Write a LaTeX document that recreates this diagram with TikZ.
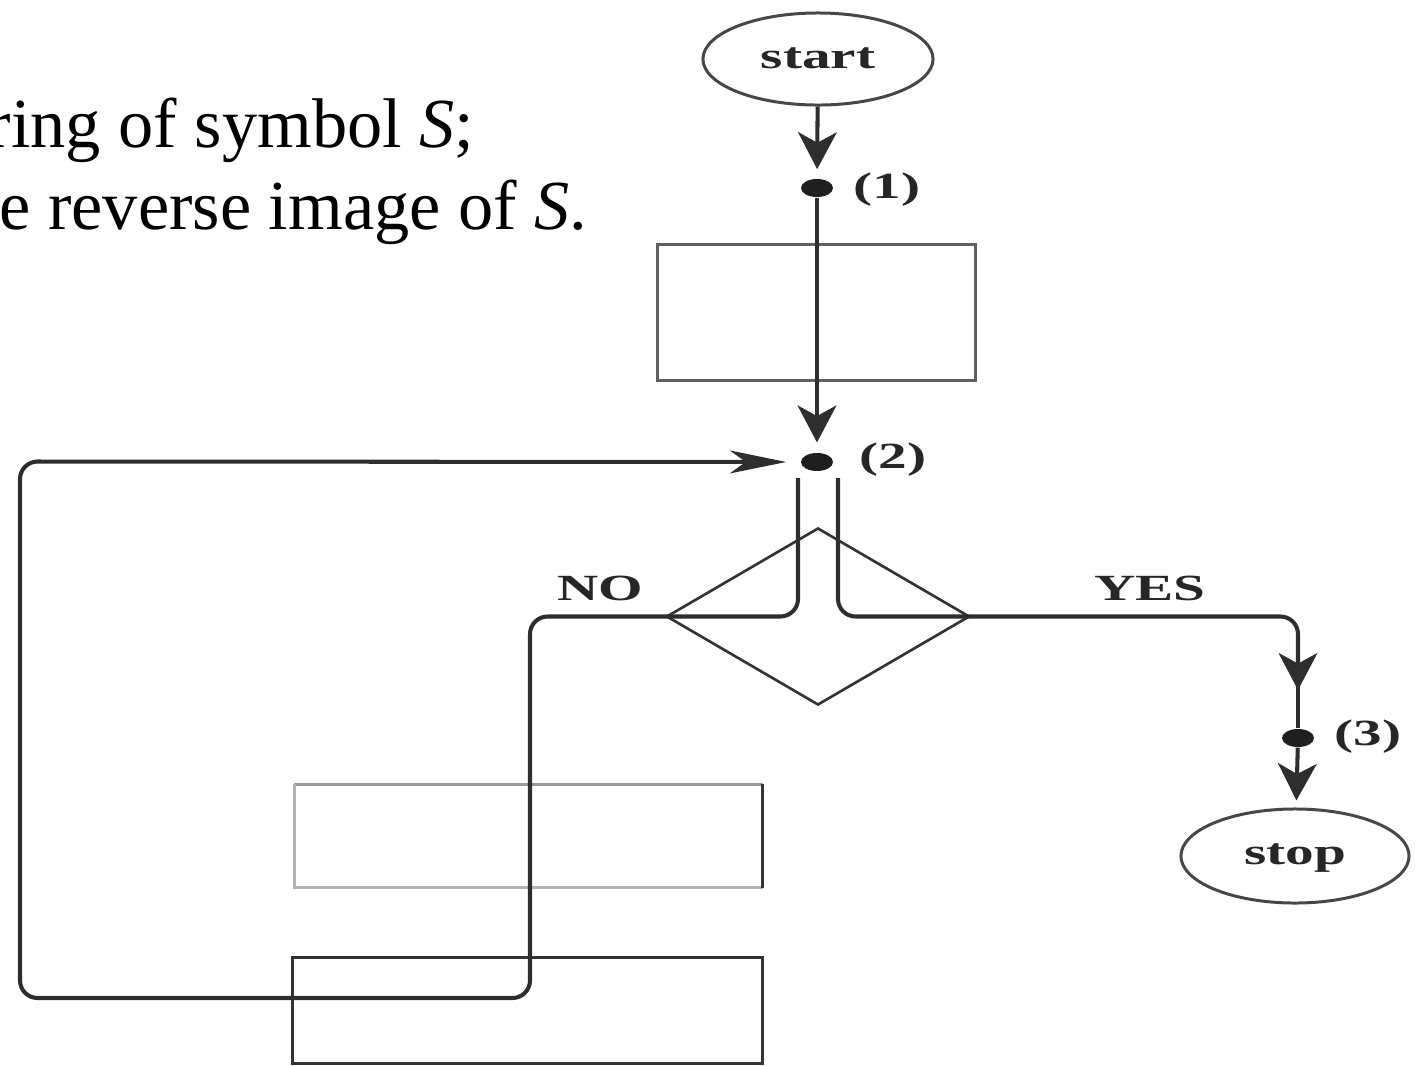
\documentclass[tikz,border=0pt]{standalone}
\usepackage{graphicx}
\usepackage{fontspec}
\setmainfont{Liberation Serif}
\usetikzlibrary{arrows.meta,shapes.geometric,calc}
\newcommand{\widetext}[1]{\scalebox{1.55}[1]{#1}}
\tikzset{
  conn/.style={line width=1.15pt, draw=black!82},
  vtip/.style={-{Stealth[length=10.5pt,width=11pt,inset=3pt]}},
  htip/.style={-{Stealth[length=16pt,width=6.5pt,inset=4.5pt]}},
  terminal/.style={ellipse, draw=black!72, line width=0.85pt, inner sep=0pt},
  procbox/.style={rectangle, inner sep=0pt},
  dotnode/.style={ellipse, fill=black!88, inner sep=0pt, minimum width=3.2mm, minimum height=1.8mm},
  lab/.style={font=\fontsize{10.5}{12}\selectfont\bfseries, text=black!85, inner sep=0pt},
  bodytext/.style={font=\fontsize{20}{24}\selectfont, inner sep=0pt, anchor=base east},
}
\begin{document}
\begin{tikzpicture}[x=0.01cm,y=-0.01cm]
\clip (0,0) rectangle (1423,1066);
\fill[white] (0,0) rectangle (1423,1066);

% text lines
\node[bodytext] (t1) at (475,147) {ring of symbol \textit{S};};
\node[bodytext] (t2) at (588,229) {e reverse image of \textit{S}.};

% boxes
\node[procbox, draw=black!62, line width=0.85pt, minimum width=31.7mm, minimum height=13.5mm] (box1) at (816.5,312.5) {};
\node[procbox, minimum width=46.7mm, minimum height=10.2mm] (box2) at (528.5,836) {};
\draw[black!40, line width=0.85pt] (box2.north west) -- (box2.north east);
\draw[black!30, line width=0.85pt] (box2.north west) -- (box2.south west) -- (box2.south east);
\draw[black!80, line width=0.85pt] (box2.north east) -- (box2.south east);
\node[procbox, draw=black!80, line width=0.85pt, minimum width=46.9mm, minimum height=10.5mm] (box3) at (527.5,1010.5) {};

% decision
\node[diamond, draw=black!80, line width=0.75pt, inner sep=0pt, minimum width=30.3mm, minimum height=17.7mm, aspect=1.71] (dec) at (818,616.5) {};

% terminals
\node[terminal, minimum width=23mm, minimum height=9.2mm] (start) at (818,59) {};
\node[terminal, minimum width=22.8mm, minimum height=9.4mm] (stop) at (1295,856) {};
\node[lab] (starttxt) at (818,58) {\widetext{start}};
\node[lab] (stoptxt) at (1295,858) {\widetext{stop}};

% dots
\node[dotnode] (d1) at (817,188) {};
\node[dotnode] (d2) at (817,462) {};
\node[dotnode] (d3) at (1298,738) {};

% labels
\node[lab] (l1) at (887,190) {\widetext{(1)}};
\node[lab] (l2) at (893,460) {\widetext{(2)}};
\node[lab] (l3) at (1368,737) {\widetext{(3)}};
\node[lab] (no) at (600,588) {\widetext{NO}};
\node[lab] (yes) at (1150,588) {\widetext{YES}};

% connectors
\draw[conn, vtip, shorten >=2.6pt] (start) -- (d1);
\draw[conn, vtip, shorten >=2.8pt] (d1) -- (d2);

\coordinate (nobr) at (798,478);
\coordinate (yesbr) at (838,478);
\coordinate (ymid) at (1298,690);

\draw[conn, htip, rounded corners=5pt, shorten >=4pt]
  (nobr) -- (798,616.5) -- (530,616.5) -- (530,998) -- (20,998) -- (20,461.5) -- (d2);
\draw[conn, vtip, rounded corners=5pt]
  (yesbr) -- (838,616.5) -- (1298,616.5) -- (ymid);
\draw[conn] ($(ymid)+(0,-8)$) -- (d3);
\draw[conn, vtip, shorten >=2pt] (d3) -- (stop);
\end{tikzpicture}
\end{document}
